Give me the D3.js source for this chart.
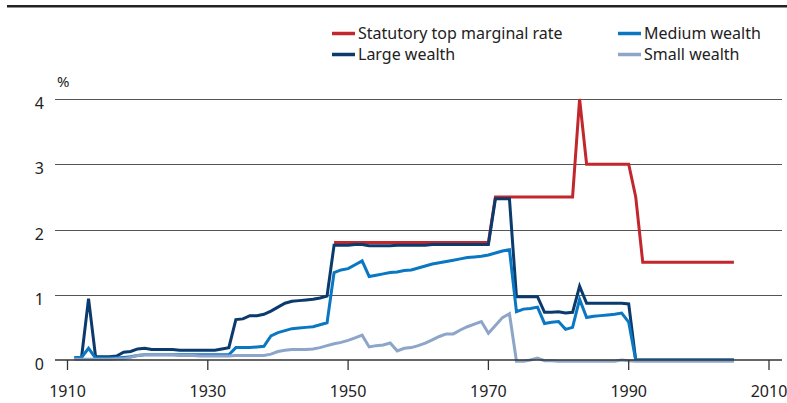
<!DOCTYPE html>
<meta charset="utf-8">
<style>
body { margin: 0; background: #fff; }
svg text { font-family: "Noto Sans", sans-serif; fill: #222; }
.grid line { stroke: #555; stroke-width: 1.2px; shape-rendering: crispEdges; }
.series { fill: none; stroke-width: 3px; stroke-linejoin: miter; }
</style>
<body>
<div id="chart"></div>
<script src="https://d3js.org/d3.v7.min.js"></script>
<script>

// yearly values 1911-2005 (percent)
var startYear = 1911;

var largeWealth = [
  0.04, 0.04, 0.94, 0.05, 0.05, 0.05, 0.06, 0.12, 0.13, 0.17,   // 1911-1920
  0.18, 0.16, 0.16, 0.16, 0.16, 0.15, 0.15, 0.15, 0.15, 0.15,   // 1921-1930
  0.15, 0.17, 0.19, 0.62, 0.63, 0.68, 0.68, 0.70, 0.75, 0.81,   // 1931-1940
  0.87, 0.90, 0.91, 0.92, 0.93, 0.95, 0.98, 1.76, 1.76, 1.76,   // 1941-1950
  1.77, 1.77, 1.75, 1.75, 1.75, 1.75, 1.76, 1.76, 1.76, 1.76,   // 1951-1960
  1.76, 1.77, 1.77, 1.77, 1.77, 1.77, 1.77, 1.77, 1.77, 1.77,   // 1961-1970
  2.47, 2.47, 2.47, 0.97, 0.97, 0.97, 0.97, 0.73, 0.73, 0.74,   // 1971-1980
  0.72, 0.73, 1.13, 0.87, 0.87, 0.87, 0.87, 0.87, 0.87, 0.86,   // 1981-1990
  0, 0, 0, 0, 0, 0, 0, 0, 0, 0,                                 // 1991-2000
  0, 0, 0, 0, 0                                                 // 2001-2005
];

var mediumWealth = [
  0.04, 0.04, 0.18, 0.03, 0.03, 0.03, 0.03, 0.04, 0.05, 0.07,
  0.08, 0.08, 0.08, 0.08, 0.08, 0.08, 0.08, 0.08, 0.08, 0.08,
  0.08, 0.08, 0.08, 0.19, 0.19, 0.19, 0.20, 0.21, 0.37, 0.42,
  0.45, 0.48, 0.49, 0.50, 0.51, 0.54, 0.57, 1.34, 1.38, 1.40,
  1.46, 1.52, 1.28, 1.30, 1.32, 1.34, 1.35, 1.37, 1.38, 1.41,
  1.44, 1.47, 1.49, 1.51, 1.53, 1.55, 1.57, 1.58, 1.59, 1.61,
  1.64, 1.67, 1.69, 0.74, 0.78, 0.79, 0.81, 0.56, 0.58, 0.59,
  0.47, 0.50, 0.93, 0.65, 0.67, 0.68, 0.69, 0.70, 0.72, 0.58,
  0, 0, 0, 0, 0, 0, 0, 0, 0, 0,
  0, 0, 0, 0, 0
];

var smallWealth = [
  0.01, 0.01, 0.01, 0.01, 0.01, 0.01, 0.02, 0.02, 0.04, 0.07,
  0.08, 0.08, 0.08, 0.08, 0.08, 0.07, 0.07, 0.07, 0.06, 0.06,
  0.06, 0.06, 0.06, 0.07, 0.07, 0.07, 0.07, 0.07, 0.09, 0.13,
  0.15, 0.16, 0.16, 0.16, 0.17, 0.19, 0.22, 0.25, 0.27, 0.30,
  0.34, 0.38, 0.20, 0.22, 0.23, 0.26, 0.14, 0.18, 0.19, 0.22,
  0.26, 0.31, 0.36, 0.40, 0.40, 0.46, 0.51, 0.55, 0.59, 0.41,
  0.53, 0.65, 0.71, -0.02, -0.02, 0.00, 0.03, -0.01, -0.01, -0.02,
  -0.02, -0.02, -0.02, -0.02, -0.02, -0.02, -0.02, -0.02, 0.00, -0.01,
  -0.02, -0.02, -0.02, -0.02, -0.02, -0.02, -0.02, -0.02, -0.02, -0.02,
  -0.02, -0.02, -0.02, -0.02, -0.02
];

// statutory top marginal rate, break points
var rateYears  = [1948, 1970, 1971, 1982, 1983, 1984, 1990, 1991, 1992, 2005];
var rateValues = [1.8,  1.8,  2.5,  2.5,  4,    3,    3,    2.5,  1.5,  1.5];

var xTicks = [1910, 1930, 1950, 1970, 1990, 2010];
var yTicks = [0, 1, 2, 3, 4];

var legendLabels = ["Statutory top marginal rate", "Large wealth", "Medium wealth", "Small wealth"];
var colors = {rate: "#c1272d", large: "#0b3b6c", medium: "#0a77c2", small: "#8da5c8"};

var width = 787, height = 403;

var svg = d3.select("#chart").append("svg")
    .attr("width", width)
    .attr("height", height);

var x = d3.scaleLinear().domain([1910, 2010]).range([67.5, 769]);
var y = d3.scaleLinear().domain([0, 4]).range([360, 99]);

// top rule
svg.append("line")
    .attr("x1", 7).attr("x2", 787)
    .attr("y1", 6.2).attr("y2", 6.2)
    .attr("stroke", "#222").attr("stroke-width", 2.5);

// gridlines
svg.append("g").attr("class", "grid")
  .selectAll("line")
  .data(yTicks.filter(d => d > 0))
  .enter().append("line")
    .attr("x1", 55).attr("x2", 782)
    .attr("y1", d => Math.round(y(d)) + 0.5)
    .attr("y2", d => Math.round(y(d)) + 0.5);

// y labels
svg.append("g").selectAll("text")
  .data(yTicks)
  .enter().append("text")
    .attr("x", 44)
    .attr("y", d => y(d) + 10)
    .attr("text-anchor", "end")
    .style("font-size", "16px")
    .text(d => d);

svg.append("text")
    .attr("x", 57).attr("y", 87)
    .style("font-size", "15px")
    .text("%");

// series
var line = d3.line()
    .x(d => x(d[0]))
    .y(d => y(d[1]));

function pairs(vals) {
  return vals.map((v, i) => [startYear + i, v]);
}

var series = [
  {key: "rate",   data: rateYears.map((yr, i) => [yr, rateValues[i]])},
  {key: "large",  data: pairs(largeWealth)},
  {key: "medium", data: pairs(mediumWealth)},
  {key: "small",  data: pairs(smallWealth)}
];

svg.append("g").selectAll("path")
  .data(series)
  .enter().append("path")
    .attr("class", "series")
    .attr("stroke", d => colors[d.key])
    .attr("d", d => line(d.data));

// x axis
var xAxis = svg.append("g");
xAxis.append("line")
    .attr("x1", 55).attr("x2", 782)
    .attr("y1", 360).attr("y2", 360)
    .attr("stroke", "#333").attr("stroke-width", 1.5);
xAxis.selectAll(".tick")
  .data(xTicks)
  .enter().append("line")
    .attr("x1", d => x(d)).attr("x2", d => x(d))
    .attr("y1", 360).attr("y2", 370)
    .attr("stroke", "#333").attr("stroke-width", 1.3);
xAxis.selectAll("text")
  .data(xTicks)
  .enter().append("text")
    .attr("x", d => x(d))
    .attr("y", 397)
    .attr("text-anchor", "middle")
    .style("font-size", "16px")
    .text(d => d);

// legend
var legendItems = [
  {label: legendLabels[0], key: "rate",   x: 332, y: 33.5},
  {label: legendLabels[1], key: "large",  x: 332, y: 54.5},
  {label: legendLabels[2], key: "medium", x: 618, y: 33.5},
  {label: legendLabels[3], key: "small",  x: 618, y: 54.5}
];

var legend = svg.append("g").selectAll("g")
  .data(legendItems)
  .enter().append("g")
    .attr("transform", d => "translate(" + d.x + "," + d.y + ")");

legend.append("line")
    .attr("x1", 0).attr("x2", 23)
    .attr("stroke", d => colors[d.key])
    .attr("stroke-width", 3.5);

legend.append("text")
    .attr("x", 26)
    .attr("dy", "0.35em")
    .style("font-size", "16px")
    .text(d => d.label);

</script>
